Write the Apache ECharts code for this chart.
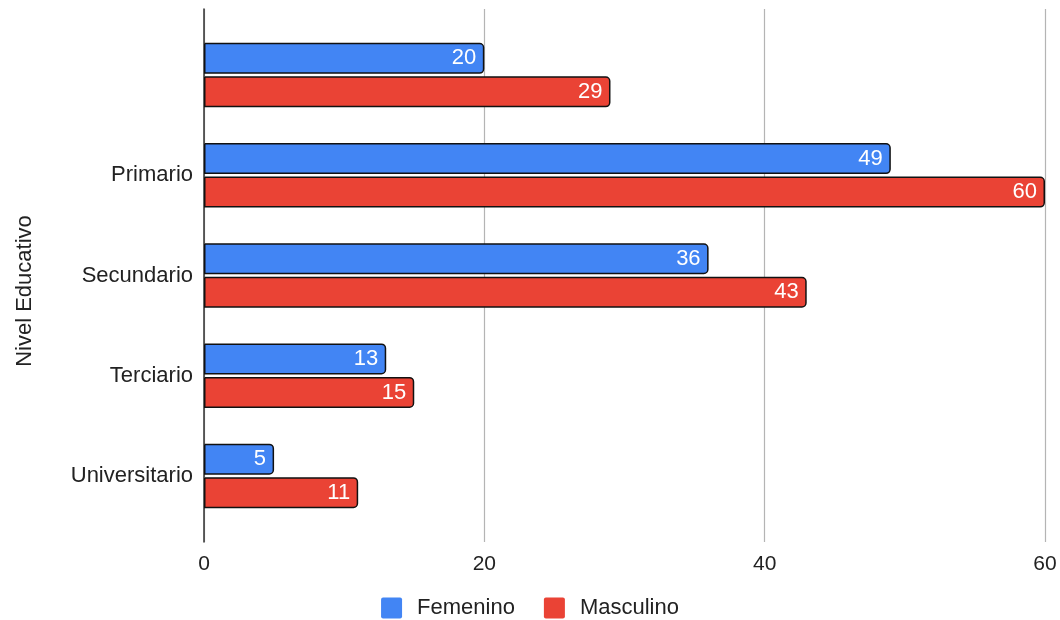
<!DOCTYPE html>
<html>
<head>
<meta charset="utf-8">
<script src="https://cdn.jsdelivr.net/npm/echarts@6/dist/echarts.min.js"></script>
<style>html,body{margin:0;padding:0;background:#fff}#c{width:1060px;height:620px}</style>
</head>
<body>
<div id="c"></div>
<script>
const categories = ['', 'Primario', 'Secundario', 'Terciario', 'Universitario'];
const femenino = [20, 49, 36, 13, 5];
const masculino = [29, 60, 43, 15, 11];
const xTicks = [0, 20, 40, 60];
const axisTitle = 'Nivel Educativo';
const seriesNames = ['Femenino', 'Masculino'];

const chart = echarts.init(document.getElementById('c'), null, {renderer: 'canvas'});
const font = '"Liberation Sans", Arial, sans-serif';
const barStyle = (color) => ({color: color, borderColor: '#111', borderWidth: 1.5, borderRadius: [0, 4, 4, 0]});
const lbl = {show: true, position: 'insideRight', distance: 8, color: '#fff', fontSize: 22, fontFamily: font};

chart.setOption({
  backgroundColor: '#fff',
  animation: false,
  textStyle: {fontFamily: font},
  grid: [
    {left: 204, right: 15, top: 9, bottom: 78},
    {left: 204, right: 15, top: 25, bottom: 94}
  ],
  xAxis: [
    {gridIndex: 0, type: 'value', min: xTicks[0], max: xTicks[xTicks.length - 1], interval: 20,
     axisLine: {show: false}, axisTick: {show: false},
     axisLabel: {color: '#222', fontSize: 21, margin: 12, fontFamily: font},
     splitLine: {lineStyle: {color: '#b4b4b4', width: 1.2}}},
    {gridIndex: 1, type: 'value', min: xTicks[0], max: xTicks[xTicks.length - 1], show: false}
  ],
  yAxis: [
    {gridIndex: 0, type: 'category', data: [''], axisLabel: {show: false}, axisTick: {show: false},
     axisLine: {show: true, lineStyle: {color: '#333', width: 1.5}}},
    {gridIndex: 1, type: 'category', data: categories, inverse: true,
     axisLine: {show: false}, axisTick: {show: false},
     axisLabel: {color: '#222', fontSize: 22, margin: 11, fontFamily: font}}
  ],
  legend: {
    top: 592, left: 'center', itemWidth: 21, itemHeight: 21, itemGap: 29,
    icon: 'path://M2,0 L19,0 Q21,0 21,2 L21,19 Q21,21 19,21 L2,21 Q0,21 0,19 L0,2 Q0,0 2,0 Z',
    textStyle: {fontSize: 22, color: '#222', fontFamily: font, padding: [0, 0, 0, 10]},
    itemStyle: {borderWidth: 0},
    data: seriesNames
  },
  graphic: [{
    type: 'text', rotation: Math.PI / 2, x: 25, y: 291,
    style: {text: axisTitle, fill: '#222', font: '22px ' + font, align: 'center', verticalAlign: 'middle'}
  }],
  series: [
    {name: seriesNames[0], type: 'bar', xAxisIndex: 1, yAxisIndex: 1, data: femenino,
     barWidth: 31, barGap: '8%', itemStyle: barStyle('#4285F4'), label: lbl},
    {name: seriesNames[1], type: 'bar', xAxisIndex: 1, yAxisIndex: 1, data: masculino,
     barWidth: 31, barGap: '8%', itemStyle: barStyle('#EA4335'), label: lbl}
  ]
});
</script>
</body>
</html>
